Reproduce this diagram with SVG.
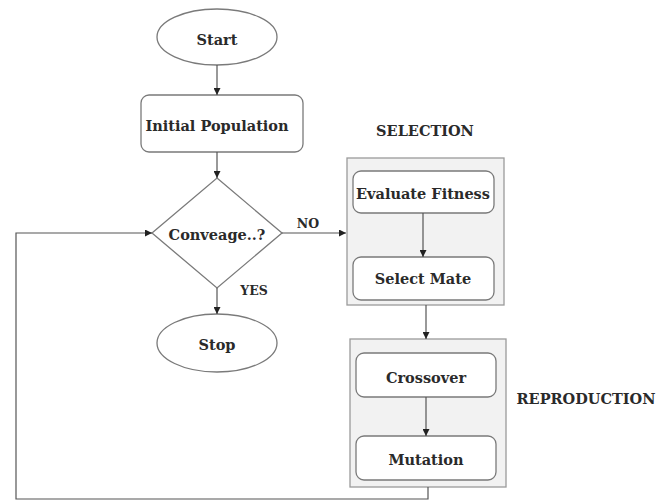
<svg xmlns="http://www.w3.org/2000/svg" width="670" height="502" viewBox="0 0 670 502">
<style>
.n{fill:#fff;stroke:#7a7a7a;stroke-width:1.3}
.g{fill:#f2f2f2;stroke:#9a9a9a;stroke-width:1.3}
.t{font-family:"DejaVu Serif",serif;font-weight:bold;font-size:14.5px;fill:#2a2a2a;text-anchor:middle;dominant-baseline:central}
.s{font-size:12.5px}
.c{fill:none;stroke:#555;stroke-width:1.2}
</style>
<defs>
<marker id="a" viewBox="0 0 10 10" refX="10" refY="5" markerWidth="7" markerHeight="7" orient="auto" markerUnits="userSpaceOnUse">
<path d="M0,0 L10,5 L0,10 z" fill="#222"/>
</marker>
</defs>
<rect width="670" height="502" fill="#fff"/>
<g id="selection">
<rect class="g" x="347" y="158" width="157" height="147"/>
<text class="t" x="425" y="130">SELECTION</text>
</g>
<g id="reproduction">
<rect class="g" x="350" y="339" width="156" height="148"/>
<text class="t" x="586" y="398">REPRODUCTION</text>
</g>
<g id="start">
<ellipse class="n" cx="217" cy="37" rx="60" ry="28"/>
<text class="t" x="217" y="39">Start</text>
</g>
<g id="init">
<rect class="n" x="141" y="95" width="162" height="57" rx="8"/>
<text class="t" x="217" y="125">Initial Population</text>
</g>
<g id="conv">
<polygon class="n" points="217,178 282,233 217,288 152,233"/>
<text class="t" x="217" y="234">Conveage..?</text>
</g>
<g id="stop">
<ellipse class="n" cx="217" cy="343" rx="60" ry="29"/>
<text class="t" x="217" y="344">Stop</text>
</g>
<g id="eval">
<rect class="n" x="353" y="171" width="141" height="42" rx="8"/>
<text class="t" x="423" y="193">Evaluate Fitness</text>
</g>
<g id="mate">
<rect class="n" x="353" y="257" width="141" height="43" rx="8"/>
<text class="t" x="423" y="278">Select Mate</text>
</g>
<g id="cross">
<rect class="n" x="356" y="353" width="140" height="44" rx="8"/>
<text class="t" x="426" y="377">Crossover</text>
</g>
<g id="mut">
<rect class="n" x="356" y="436" width="140" height="44" rx="8"/>
<text class="t" x="426" y="459">Mutation</text>
</g>
<g id="connectors">
<path class="c" d="M217,65 V95" marker-end="url(#a)"/>
<path class="c" d="M217,152 V178" marker-end="url(#a)"/>
<path class="c" d="M282,233 H346" marker-end="url(#a)"/>
<path class="c" d="M217,288 V314" marker-end="url(#a)"/>
<path class="c" d="M423,213 V257" marker-end="url(#a)"/>
<path class="c" d="M426,305 V339" marker-end="url(#a)"/>
<path class="c" d="M426,397 V436" marker-end="url(#a)"/>
<path class="c" d="M428,487 V499 H16 V233 H152" marker-end="url(#a)"/>
<text class="t s" x="308" y="223">NO</text>
<text class="t s" x="254" y="290">YES</text>
</g>
</svg>
